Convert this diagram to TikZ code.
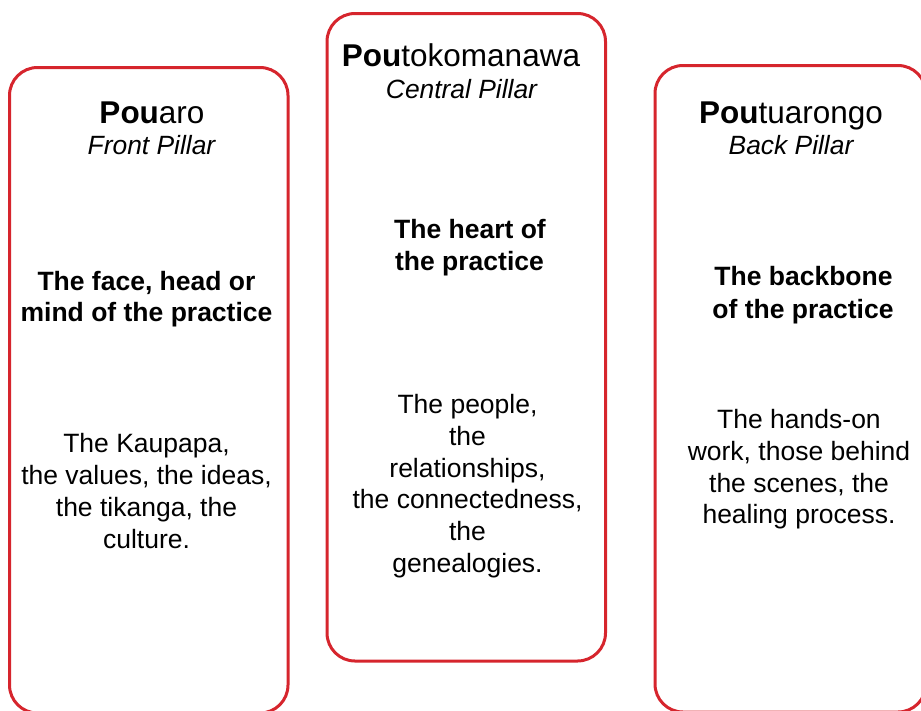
\documentclass[tikz,border=0pt]{standalone}
\usepackage{fontspec}
\setmainfont{Liberation Sans}
\definecolor{pillarred}{RGB}{214,37,45}
\tikzset{
  pillar/.style={draw=pillarred, line width=3pt, rounded corners=28pt},
  ttl/.style={anchor=base, inner sep=0pt, font=\fontsize{31.5}{36}\selectfont},
  sub/.style={anchor=base, inner sep=0pt, font=\fontsize{26.4}{32}\selectfont\itshape},
  hd/.style={anchor=base, inner sep=0pt, font=\fontsize{26.5}{32}\selectfont\bfseries},
  bd/.style={anchor=base, inner sep=0pt, font=\fontsize{26.5}{32}\selectfont}
}
\begin{document}
\begin{tikzpicture}[x=1pt,y=-1pt]
\useasboundingbox (0,0) rectangle (921,710);
\clip (0,0) rectangle (921,710);
% boxes
\draw[pillar] (9.5,67.5) rectangle (288,713);
\draw[pillar] (327,13.5) rectangle (605.5,661);
\draw[pillar] (655,65.5) rectangle (926,712);
% left
\node[ttl] (lt) at (152,123.5) {\textbf{Pou}aro};
\node[sub] (ls) at (151.5,154) {Front Pillar};
\node[hd] (lh1) at (146.5,290) {The face, head or};
\node[hd] (lh2) at (146.5,321.5) {mind of the practice};
\node[bd] (lb1) at (146.5,452) {The Kaupapa,};
\node[bd] (lb2) at (146.5,484) {the values, the ideas,};
\node[bd] (lb3) at (146.5,516) {the tikanga, the};
\node[bd] (lb4) at (146.5,548) {culture.};
% middle
\node[ttl] (mt) at (461,66.5) {\textbf{Pou}tokomanawa};
\node[sub] (ms) at (461.5,98.5) {Central Pillar};
\node[hd] (mh1) at (470,238.5) {The heart of};
\node[hd] (mh2) at (469.5,270) {the practice};
\node[bd] (mb1) at (467.5,413.5) {The people,};
\node[bd] (mb2) at (467.5,445) {the};
\node[bd] (mb3) at (467.5,477) {relationships,};
\node[bd] (mb4) at (467.5,508.5) {the connectedness,};
\node[bd] (mb5) at (467.5,540) {the};
\node[bd] (mb6) at (467.5,572) {genealogies.};
% right
\node[ttl] (rt) at (791,123.5) {\textbf{Pou}tuarongo};
\node[sub] (rs) at (791,154) {Back Pillar};
\node[hd] (rh1) at (803.5,285) {The backbone};
\node[hd] (rh2) at (803,318) {of the practice};
\node[bd] (rb1) at (799,428.5) {The hands-on};
\node[bd] (rb2) at (799,460) {work, those behind};
\node[bd] (rb3) at (799,492) {the scenes, the};
\node[bd] (rb4) at (799,523.5) {healing process.};
\end{tikzpicture}
\end{document}
